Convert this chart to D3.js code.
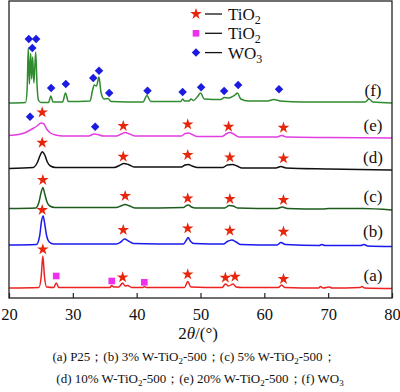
<!DOCTYPE html>
<html><head><meta charset="utf-8">
<script src="https://cdn.jsdelivr.net/npm/d3@7"></script>
<style>body{margin:0;background:#fff}svg{display:block}text{font-family:"Liberation Serif","DejaVu Serif",serif}</style>
</head><body><svg id="c" width="400" height="392"></svg>
<script>
// ---- data (2θ in degrees, stacked intensity in a.u.) ----
const xTicks = [20, 30, 40, 50, 60, 70, 80];
const seriesNames = ["(a)", "(b)", "(c)", "(d)", "(e)", "(f)"];
const seriesColors = ["#ee2020", "#1a1aee", "#1d5c1d", "#111111", "#e23ee2", "#2e8b2e"];
const labelLevels = [23, 67.3, 102.3, 141.3, 173, 208];

const curveA = [[20,10],[24.7,10.5],[25.05,22],[25.3,42],[25.55,22],[25.9,11],[27.0,10.5],[27.4,15],[27.8,10.5],[35.8,10.5],[36.1,12.5],[36.4,11],[37.2,11],[37.8,15],[38.2,12],[38.6,12.5],[39.2,10.5],[41.0,10.5],[41.2,11.5],[41.5,10.5],[47.5,10.5],[48.0,16.5],[48.5,11],[53.4,10.5],[53.9,14],[54.4,12],[55.1,14],[55.6,11],[56.5,10.5],[62.2,10.5],[62.7,13],[63.2,10.5],[68.5,10],[68.8,11.5],[69.2,10],[70.2,11],[70.6,10],[75,10.5],[75.3,11.5],[75.7,10],[80,9.5]];
const curveB = [[20,53],[24.3,53.5],[24.8,62],[25.1,77],[25.35,82],[25.6,74],[25.9,62],[26.3,56],[27,54],[36.8,54],[37.5,56],[38.1,59],[38.7,57],[39.5,54.5],[47.3,54],[47.8,58],[48.05,60.5],[48.4,57],[49.0,54.5],[53.6,54],[54.2,56.5],[54.9,58],[55.6,56],[56.3,53.5],[62.0,53],[62.6,55.5],[63.3,53.5],[68.6,52.5],[69.0,53.5],[69.5,52.5],[75.1,52.5],[75.6,53.5],[76.2,52],[80,51.5]];
const curveC = [[20,89.5],[24.2,90],[24.7,96],[25.05,106],[25.3,110.5],[25.6,104],[25.95,96],[26.4,92],[27.2,90.5],[36.8,90.5],[37.5,92],[38.2,93.5],[38.9,92],[39.8,90],[47.3,90.5],[47.8,92.5],[48.1,93],[48.6,91],[49.2,90],[53.8,90],[54.5,92.5],[55.1,92],[55.8,90],[62.0,89.5],[62.8,91],[63.6,89.5],[69,89],[70.2,89.5],[75.4,89.5],[80,88]];
const curveD = [[20,129.5],[23.8,130.5],[24.4,135],[24.9,143],[25.2,146.3],[25.6,143],[26.0,136],[26.5,132],[27.3,130.5],[36.5,130.5],[37.3,132.5],[38.0,134.5],[38.7,133.5],[39.6,131],[47.0,131],[47.6,133],[48.1,133.5],[48.7,132],[49.5,130.5],[53.5,130.5],[54.2,133],[55.0,133.5],[55.7,132],[56.5,130],[61.8,130],[62.6,131.5],[63.4,130],[70,129],[80,128]];
const curveE = [[20,162.5],[21.5,163.5],[22.6,165.5],[23.6,169],[24.4,172],[25.0,175],[25.4,174.5],[25.9,169],[26.5,165],[27.3,163],[28.5,162],[32.5,162],[33.3,164],[33.9,163.5],[34.8,162],[36.8,162],[37.6,164],[38.2,165.5],[38.9,164],[39.8,162],[47.0,162],[47.6,164.5],[48.1,165],[48.7,163.5],[49.5,161.5],[53.4,161.5],[54.1,164.5],[54.6,165.5],[55.2,164],[56.0,161],[62.0,161],[62.7,162.5],[63.5,161],[70,160.5],[80,160]];
const curveF = [[20,195],[22.6,195.5],[22.85,210],[23.02,250],[23.2,214],[23.4,244.5],[23.55,219],[23.7,241],[23.9,215],[24.18,246],[24.4,212],[24.6,198],[25.0,195.5],[26.2,195.5],[26.55,202],[26.9,196],[28.4,196],[28.85,205],[29.3,196.5],[32.7,197],[33.1,208],[33.35,213],[33.7,212],[34.1,221],[34.4,206],[34.9,199],[35.5,199.5],[36.0,196.5],[41.0,196],[41.6,202.5],[42.2,196.5],[46.9,196.5],[47.2,199],[47.5,197],[48.2,197],[48.5,199],[48.9,197.5],[49.6,202],[50.0,205],[50.6,199],[53.2,198.5],[53.7,200.5],[54.4,200],[55.4,203],[55.8,205],[56.3,199],[57.5,197],[60.5,197],[61.5,198.5],[62.5,197],[66,196],[75.8,196],[76.4,199],[77,196],[80,195]];

const anataseStars = [[25.3,48.7],[37.8,20.7],[48.0,23.7],[53.9,20.3],[55.4,21.3],[63.0,19],
  [25.2,88],[37.9,68],[48.0,69.7],[54.6,67.3],[63.0,66.3],
  [25.3,118],[38.2,102],[48.0,99.7],[54.6,99],[63.0,98],
  [25.2,155.3],[37.9,141.3],[48.0,143],[54.6,140.7],[63.0,139.7],
  [25.2,185.7],[37.9,172],[48.0,173.7],[54.4,171.3],[63.0,170.3]];
const rutileSquares = [[27.4,22],[36.1,17],[41.2,15.7]];
const wo3Diamonds = [[23.3,181.3],[33.5,171.3],
  [23.1,259],[24.25,259],[23.65,250],[26.6,210],[28.9,214],[33.2,220],[34.1,227.3],[35.7,205],[41.7,207.3],[47.2,206],[50.1,210.7],[53.7,207],[55.9,213],[62.3,208.7]];

const legendItems = [{sym:"star", name:"TiO", sub:"2"},{sym:"square", name:"TiO", sub:"2"},{sym:"diamond", name:"WO", sub:"3"}];
const captionLines = [
  ["(a) P25；(b) 3% W-TiO", "2", "-500；(c) 5% W-TiO", "2", "-500；"],
  ["(d) 10% W-TiO", "2", "-500；(e) 20% W-TiO", "2", "-500；(f) WO", "3"]
];

const curves = [curveA, curveB, curveC, curveD, curveE, curveF];

// ---- drawing ----
const svg = d3.select("#c");
const L = 9, R = 392, T = 1, B = 298;
const x = d3.scaleLinear().domain([20, 80]).range([L, R]);
const y = d3.scaleLinear().domain([0, 297]).range([B, T]);

const line = d3.line().x(d => x(d[0])).y(d => y(d[1])).curve(d3.curveMonotoneX);
curves.forEach((c, i) => {
  svg.append("path").attr("d", line(c)).attr("fill", "none")
    .attr("stroke", seriesColors[i]).attr("stroke-width", 1.5).attr("stroke-linejoin", "round");
});

// markers
const starSym = d3.symbol().type(d3.symbolStar).size(42);
const sqSym = d3.symbol().type(d3.symbolSquare).size(44);
const diaSym = d3.symbol().type(d3.symbolSquare).size(36);
const STAR = "#e8260c", SQ = "#ee30ee", DIA = "#1c1ce0";
function drawMarkers(data, sym, color, rot) {
  svg.append("g").selectAll("path").data(data).join("path")
    .attr("transform", d => `translate(${x(d[0])},${y(d[1])})${rot ? " rotate(45)" : ""}`)
    .attr("d", sym).attr("fill", color);
}
drawMarkers(anataseStars, starSym, STAR, false);
drawMarkers(rutileSquares, sqSym, SQ, false);
drawMarkers(wo3Diamonds, diaSym, DIA, true);

// series labels
seriesNames.forEach((n, i) => {
  svg.append("text").attr("x", 373).attr("y", y(labelLevels[i]) + 6)
    .attr("text-anchor", "middle").attr("font-size", 17).attr("fill", "#111").text(n);
});

// frame + axis
svg.append("rect").attr("x", L).attr("y", T).attr("width", R - L).attr("height", B - T)
  .attr("fill", "none").attr("stroke", "#222").attr("stroke-width", 1.3);
const ax = svg.append("g").attr("transform", `translate(0,${B})`)
  .call(d3.axisBottom(x).tickValues(xTicks).tickSizeInner(-5).tickSizeOuter(0).tickPadding(10).tickFormat(d3.format("d")));
ax.select(".domain").remove();
ax.attr("font-family", null);
ax.selectAll("line").attr("stroke", "#222").attr("stroke-width", 1.2);
ax.selectAll("text").attr("font-size", 16.5).attr("fill", "#111");

// axis title
const at = svg.append("text").attr("x", 198).attr("y", 339).attr("text-anchor", "middle")
  .attr("font-size", 17).attr("fill", "#111");
at.append("tspan").text("2");
at.append("tspan").attr("font-style", "italic").text("θ");
at.append("tspan").text("/(°)");

// legend
legendItems.forEach((it, i) => {
  const cy = 14 + i * 19.3;
  const sym = it.sym === "star" ? starSym : it.sym === "square" ? sqSym : diaSym;
  const col = it.sym === "star" ? STAR : it.sym === "square" ? SQ : DIA;
  svg.append("path").attr("d", sym).attr("fill", col)
    .attr("transform", `translate(196,${cy})${it.sym === "diamond" ? " rotate(45)" : ""}`);
  svg.append("line").attr("x1", 205).attr("x2", 222).attr("y1", cy).attr("y2", cy).attr("stroke", "#111").attr("stroke-width", 1.3);
  const t = svg.append("text").attr("x", 228).attr("y", cy + 6).attr("font-size", 17).attr("fill", "#111");
  t.append("tspan").text(it.name);
  t.append("tspan").attr("dy", 4).attr("font-size", 12).text(it.sub);
});

// caption
const capY = [361, 383], capX = [194, 200];
captionLines.forEach((ln, li) => {
  const t = svg.append("text").attr("x", capX[li]).attr("y", capY[li]).attr("text-anchor", "middle")
    .attr("font-size", 13).attr("fill", "#111");
  ln.forEach((seg, si) => {
    const isSub = si % 2 === 1;
    t.append("tspan").attr("dy", isSub ? 3 : (si > 0 ? -3 : 0)).attr("font-size", isSub ? 9 : 13).text(seg);
  });
});
</script></body></html>
